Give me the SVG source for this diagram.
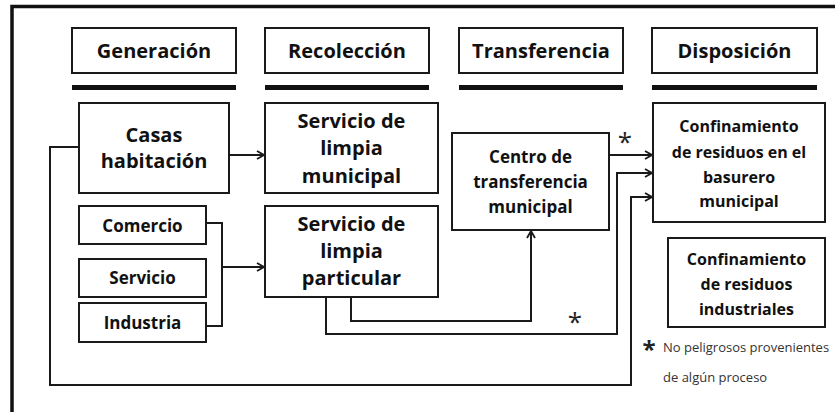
<svg xmlns="http://www.w3.org/2000/svg" width="835" height="412" viewBox="0 0 835 412">
<defs>
<style>
.box{fill:#fff;stroke:#1a1a1a;stroke-width:2}
.bar{fill:#111}
.t{font-family:"Open Sans","Noto Sans",sans-serif;font-weight:bold;fill:#111;text-anchor:middle}
.h{font-size:20px}
.b{font-size:20px}
.m{font-size:17px}
.s{font-size:16px}
.c{fill:none;stroke:#1a1a1a;stroke-width:2}
.ast{font-family:"Open Sans","Noto Sans",sans-serif;fill:#222;text-anchor:middle}
.note{font-family:"Open Sans","Noto Sans",sans-serif;font-size:13px;fill:#333}
</style>
<marker id="arr" viewBox="0 0 10 10" refX="9" refY="5" markerWidth="10" markerHeight="10" markerUnits="userSpaceOnUse" orient="auto">
<path d="M2,1 L9,5 L2,9" fill="none" stroke="#1a1a1a" stroke-width="1.8"/>
</marker>
</defs>
<rect width="835" height="412" fill="#fff"/>
<path d="M12,412 V6.5 H835" fill="none" stroke="#111" stroke-width="3.5"/>

<g id="h-generacion"><rect class="box" x="72" y="28" width="164" height="45"/><text class="t h" x="154" y="58">Generación</text><rect class="bar" x="72" y="85" width="164" height="5"/></g>
<g id="h-recoleccion"><rect class="box" x="265" y="28" width="164" height="45"/><text class="t h" x="347" y="58">Recolección</text><rect class="bar" x="265" y="85" width="164" height="5"/></g>
<g id="h-transferencia"><rect class="box" x="459" y="28" width="164" height="45"/><text class="t h" x="541" y="58">Transferencia</text><rect class="bar" x="459" y="85" width="164" height="5"/></g>
<g id="h-disposicion"><rect class="box" x="652" y="28" width="165" height="45"/><text class="t h" x="734.5" y="58">Disposición</text><rect class="bar" x="652" y="85" width="165" height="5"/></g>

<g id="connectors">
<path class="c" d="M229,155 H264" marker-end="url(#arr)"/>
<path class="c" d="M79,147 H50 V385 H631 V197 H652" marker-end="url(#arr)"/>
<path class="c" d="M206,223 H222 V326 H206"/>
<path class="c" d="M222,267 H264" marker-end="url(#arr)"/>
<path class="c" d="M351,297 V321 H531 V231" marker-end="url(#arr)"/>
<path class="c" d="M326,297 V334 H617 V173 H652" marker-end="url(#arr)"/>
<path class="c" d="M609,155 H652" marker-end="url(#arr)"/>
<text class="ast" x="625" y="151" font-size="26">*</text>
<text class="ast" x="575" y="331" font-size="26">*</text>
</g>

<g id="n-casas"><rect class="box" x="79" y="103" width="150" height="90"/><text class="t b" x="154" y="142">Casas</text><text class="t b" x="154" y="168">habitación</text></g>
<g id="n-municipal"><rect class="box" x="265" y="103" width="173" height="90"/><text class="t b" x="351.5" y="128">Servicio de</text><text class="t b" x="351.5" y="155">limpia</text><text class="t b" x="351.5" y="183">municipal</text></g>
<g id="n-comercio"><rect class="box" x="79" y="206" width="127" height="38"/><text class="t m" x="142.5" y="232">Comercio</text></g>
<g id="n-servicio"><rect class="box" x="79" y="259" width="127" height="38"/><text class="t m" x="142.5" y="284">Servicio</text></g>
<g id="n-industria"><rect class="box" x="79" y="303" width="127" height="39"/><text class="t m" x="142.5" y="329">Industria</text></g>
<g id="n-particular"><rect class="box" x="265" y="206" width="173" height="91"/><text class="t b" x="351.5" y="231">Servicio de</text><text class="t b" x="351.5" y="258">limpia</text><text class="t b" x="351.5" y="285">particular</text></g>
<g id="n-centro"><rect class="box" x="452" y="133" width="157" height="97"/><text class="t m" x="530.5" y="163">Centro de</text><text class="t m" x="530.5" y="188">transferencia</text><text class="t m" x="530.5" y="213">municipal</text></g>
<g id="n-basurero"><rect class="box" x="653" y="103" width="172" height="119"/><text class="t s" x="739" y="132">Confinamiento</text><text class="t s" x="739" y="158">de residuos en el</text><text class="t s" x="739" y="183">basurero</text><text class="t s" x="739" y="207">municipal</text></g>
<g id="n-industriales"><rect class="box" x="668" y="238" width="157" height="89"/><text class="t s" x="746.5" y="265">Confinamiento</text><text class="t s" x="746.5" y="290">de residuos</text><text class="t s" x="746.5" y="315">industriales</text></g>

<g id="footnote">
<text class="ast" x="649" y="358" font-size="24" font-weight="bold">*</text>
<text class="note" x="663" y="352">No peligrosos provenientes</text>
<text class="note" x="663" y="382">de algún proceso</text>
</g>
</svg>
